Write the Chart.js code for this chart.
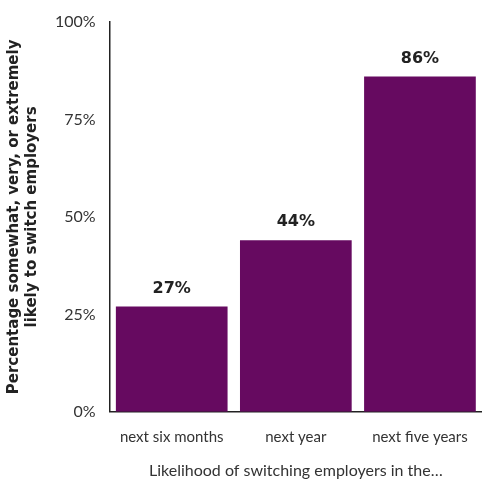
<!DOCTYPE html>
<html>
<head>
<meta charset="utf-8">
<script src="https://cdn.jsdelivr.net/npm/chart.js@4"></script>
<style>
  html, body { margin: 0; padding: 0; background: #fff; }
  #wrap { width: 482px; height: 483px; }
</style>
</head>
<body>
<div id="wrap"><canvas id="chart" width="482" height="483"></canvas></div>
<script>
const categories = ['next six months', 'next year', 'next five years'];
const shareLikely = [27, 44, 86];
const yTicks = [0, 25, 50, 75, 100];

const FONT = 'Lato, "Open Sans", sans-serif';
const BOLD_FONT = '"DejaVu Sans", sans-serif';

// Draws the bold percentage above each bar
const valueLabels = {
  id: 'valueLabels',
  afterDatasetsDraw(chart) {
    const ctx = chart.ctx;
    const meta = chart.getDatasetMeta(0);
    ctx.save();
    ctx.font = 'bold 16px ' + BOLD_FONT;
    ctx.fillStyle = '#222';
    ctx.textAlign = 'center';
    ctx.textBaseline = 'middle';
    meta.data.forEach((bar, i) => {
      ctx.fillText(shareLikely[i] + '%', bar.x, bar.y - 18);
    });
    ctx.restore();
  }
};

new Chart(document.getElementById('chart'), {
  type: 'bar',
  data: {
    labels: categories,
    datasets: [{
      data: shareLikely,
      backgroundColor: '#660a60',
      borderWidth: 0,
      barPercentage: 0.9,
      categoryPercentage: 1.0
    }]
  },
  options: {
    responsive: false,
    animation: false,
    layout: { padding: { top: 22, right: 0, bottom: 3, left: 5 } },
    plugins: { legend: { display: false }, tooltip: { enabled: false } },
    scales: {
      x: {
        grid: { display: false },
        border: { display: true, color: '#222', width: 1.5 },
        ticks: { color: '#333', font: { family: FONT, size: 15 }, padding: 8 },
        title: {
          display: true,
          text: 'Likelihood of switching employers in the…',
          color: '#333',
          font: { family: FONT, size: 16 },
          padding: { top: 7, bottom: 0 }
        }
      },
      y: {
        min: 0,
        max: 100,
        afterBuildTicks(axis) { axis.ticks = yTicks.map(v => ({ value: v })); },
        grid: { display: false },
        border: { display: true, color: '#222', width: 1.5 },
        ticks: { color: '#333', font: { family: FONT, size: 16 }, padding: 6, callback: v => v + '%' },
        title: {
          display: true,
          text: ['Percentage somewhat, very, or extremely', 'likely to switch employers'],
          color: '#222',
          font: { family: BOLD_FONT, size: 15, weight: 'bold', lineHeight: 1.2 },
          padding: { top: 0, bottom: 8 }
        }
      }
    }
  },
  plugins: [valueLabels]
});
</script>
</body>
</html>
